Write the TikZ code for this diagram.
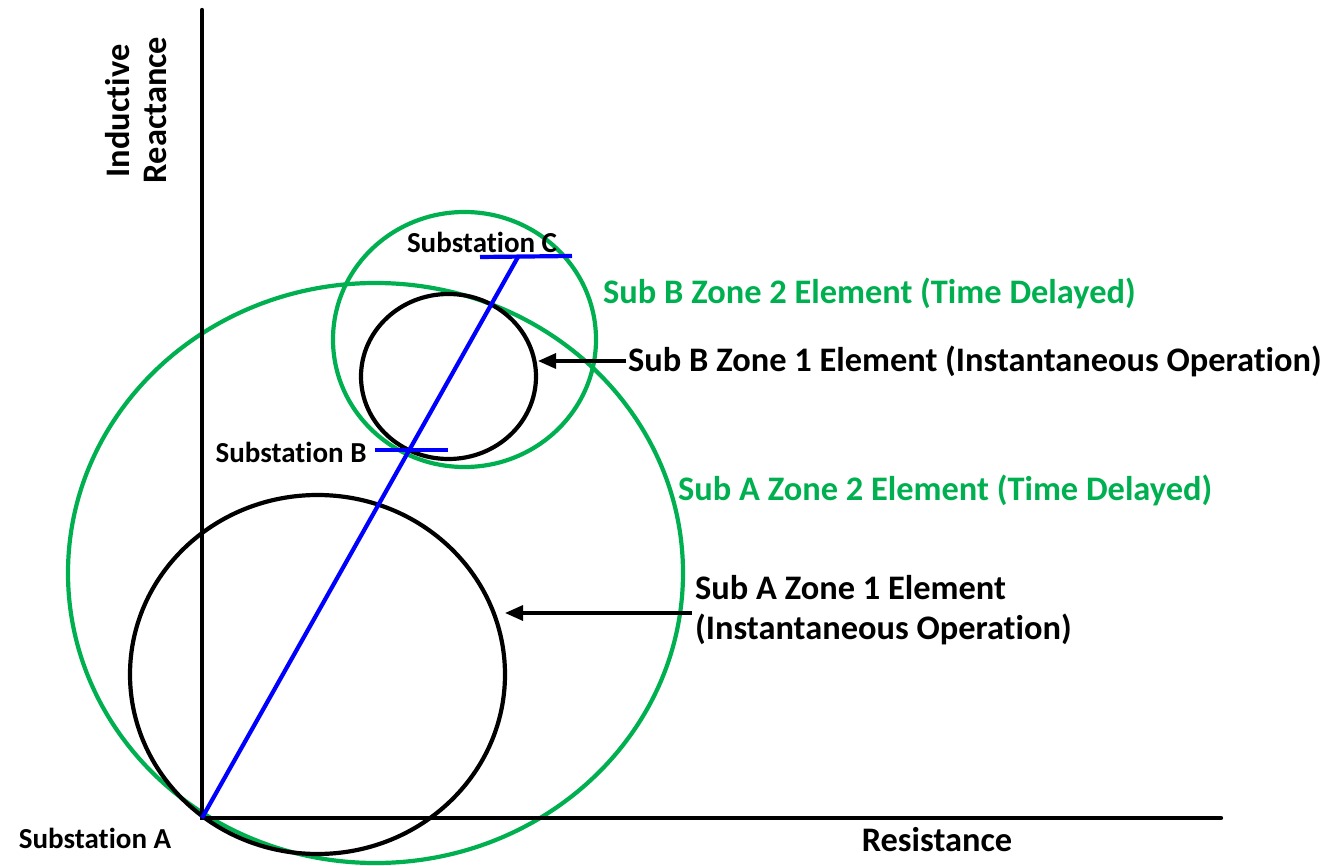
\documentclass[tikz,border=0pt]{standalone}
\usepackage{fontspec}
\setmainfont[Ligatures=NoCommon]{Carlito}
\usetikzlibrary{arrows.meta,shapes.geometric}
\definecolor{zgreen}{RGB}{0,176,80}
\definecolor{zblue}{RGB}{0,0,255}
\begin{document}
\begin{tikzpicture}[x=1pt,y=-1pt,
  axis/.style={line width=4.4pt,black,line cap=round},
  zone/.style={ellipse,draw,line width=4.2pt,inner sep=0pt,outer sep=0pt},
  zone1/.style={zone,draw=black},
  zone2/.style={zone,draw=zgreen},
  imp/.style={line width=4.2pt,zblue},
  lbl/.style={font=\bfseries\fontsize{34.4}{40}\selectfont,inner sep=0pt,anchor=west},
  sublbl/.style={font=\bfseries\fontsize{29}{34}\selectfont,inner sep=0pt},
  ptr/.style={line width=3.2pt,-{Triangle[length=18pt,width=15pt]}}]
\useasboundingbox (0,0) rectangle (1326,866);
% axes
\coordinate (O) at (202,818);
\coordinate (Ytop) at (202,10);
\coordinate (Xend) at (1221,818);
% zones
\node[zone2,minimum width=615pt,minimum height=580pt] (zA2) at (375.5,573) {};
\node[zone1,minimum width=375pt,minimum height=359pt] (zA1) at (317.5,674.5) {};
\node[zone2,minimum width=263pt,minimum height=255pt] (zB2) at (464.5,339.5) {};
\node[zone1,minimum width=175pt,minimum height=165pt] (zB1) at (448.5,376.5) {};
\draw[axis] (Ytop) -- (O) -- (Xend);
% impedance line
\coordinate (C) at (518,257);
\coordinate (C1) at (480,257);
\coordinate (C2) at (572,256);
\coordinate (B1) at (375,450);
\coordinate (B2) at (448,450);
\draw[imp] (O) -- (C);
\draw[imp] (C1) -- (C2);
\draw[imp] (B1) -- (B2);
% labels
\node[sublbl] (sA) at (95,838) {Substation A};
\node[sublbl] (sB) at (291,452) {Substation B};
\node[sublbl] (sC) at (482,242) {Substation C};
\node[lbl,anchor=center] (res) at (937,840) {Resistance};
\node[lbl,anchor=center,rotate=90] (ind) at (118,111) {Inductive};
\node[lbl,anchor=center,rotate=90] (rea) at (155,110) {Reactance};
\node[lbl,text=zgreen] (lB2) at (603,293) {Sub B Zone 2 Element (Time Delayed)};
\node[lbl] (lB1) at (628,361) {Sub B Zone 1 Element (Instantaneous Operation)};
\node[lbl,text=zgreen] (lA2) at (678,490) {Sub A Zone 2 Element (Time Delayed)};
\node[lbl,align=left] (lA1) at (695,610) {Sub A Zone 1 Element\\(Instantaneous Operation)};
% pointers
\coordinate (tB) at (538,361);
\coordinate (tA) at (505,613);
\coordinate (sB1) at (626,361);
\coordinate (sA1) at (692,613);
\draw[ptr] (sB1) -- (tB);
\draw[ptr] (sA1) -- (tA);
\end{tikzpicture}
\end{document}
